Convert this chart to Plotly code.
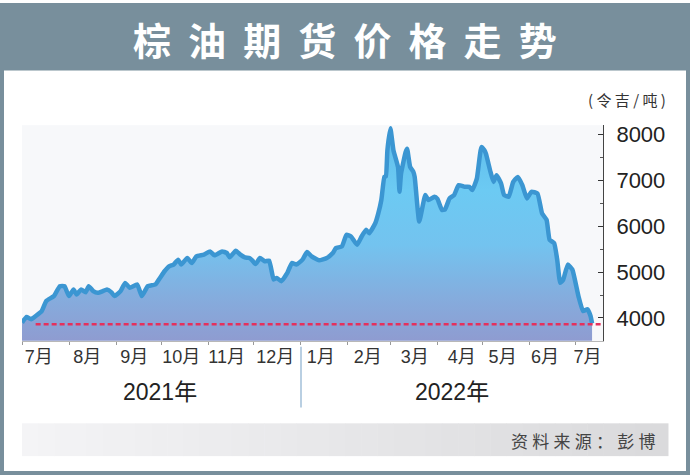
import plotly.graph_objects as go

dates = [
    "2021-07-01", "2021-07-04", "2021-07-07", "2021-07-10", "2021-07-14", "2021-07-17", "2021-07-22", "2021-07-26", "2021-07-29",
    "2021-08-01", "2021-08-04", "2021-08-06", "2021-08-09", "2021-08-12", "2021-08-14", "2021-08-17", "2021-08-20", "2021-08-23", "2021-08-26", "2021-08-29", "2021-08-31",
    "2021-09-04", "2021-09-07", "2021-09-10", "2021-09-15", "2021-09-18", "2021-09-22", "2021-09-27", "2021-09-30",
    "2021-10-03", "2021-10-06", "2021-10-09", "2021-10-12", "2021-10-14", "2021-10-18", "2021-10-21", "2021-10-24", "2021-10-29",
    "2021-11-02", "2021-11-05", "2021-11-10", "2021-11-13", "2021-11-15", "2021-11-19", "2021-11-22", "2021-11-25", "2021-11-28", "2021-11-30",
    "2021-12-02", "2021-12-05", "2021-12-08", "2021-12-11", "2021-12-14", "2021-12-16", "2021-12-19", "2021-12-23", "2021-12-26", "2021-12-29",
    "2022-01-02", "2022-01-05", "2022-01-08", "2022-01-13", "2022-01-18", "2022-01-22", "2022-01-24", "2022-01-28", "2022-01-31",
    "2022-02-03", "2022-02-07", "2022-02-10", "2022-02-13", "2022-02-15", "2022-02-19", "2022-02-21", "2022-02-23", "2022-02-25", "2022-02-26", "2022-02-27",
    "2022-03-01", "2022-03-03", "2022-03-06", "2022-03-07", "2022-03-08", "2022-03-11", "2022-03-12", "2022-03-14", "2022-03-16", "2022-03-17", "2022-03-20", "2022-03-24", "2022-03-26", "2022-03-30",
    "2022-04-01", "2022-04-04", "2022-04-06", "2022-04-09", "2022-04-12", "2022-04-15", "2022-04-19", "2022-04-22", "2022-04-24", "2022-04-27", "2022-04-30",
    "2022-05-02", "2022-05-03", "2022-05-06", "2022-05-08", "2022-05-10", "2022-05-13", "2022-05-15", "2022-05-18", "2022-05-21", "2022-05-24", "2022-05-27", "2022-05-30",
    "2022-06-02", "2022-06-06", "2022-06-09", "2022-06-12", "2022-06-14", "2022-06-17", "2022-06-19", "2022-06-21", "2022-06-23", "2022-06-26", "2022-06-29",
    "2022-07-03", "2022-07-06", "2022-07-09", "2022-07-11", "2022-07-12",
]

prices = [
    3898, 4022, 3972, 4043, 4150, 4370, 4477, 4694, 4694,
    4477, 4622, 4514, 4622, 4560, 4694, 4585, 4549, 4580, 4622, 4560, 4477,
    4585, 4766, 4660, 4731, 4477, 4694, 4731, 4874,
    5020, 5128, 5165, 5273, 5165, 5308, 5200, 5345, 5382,
    5453, 5367, 5453, 5420, 5323, 5469, 5382, 5323, 5308, 5250,
    5178, 5308, 5236, 5250, 4839, 4874, 4803, 4983, 5200, 5165,
    5273, 5438, 5345, 5258, 5308, 5416, 5525, 5562, 5816,
    5779, 5599, 5779, 5924, 5850, 6067, 6284, 6575, 7080, 7095, 7659,
    8140, 7659, 7297, 6755, 7150, 7620, 7694, 7297, 7200, 7080, 6104, 6683, 6575, 6646,
    6600, 6358, 6370, 6610, 6683, 6900, 6863, 6863, 6791, 7043, 7731,
    7659, 7586, 7189, 6971, 7117, 6935, 6683, 6646, 6971, 7080, 6900, 6610,
    6755, 6718, 6284, 6141, 5707, 5633, 5273, 4766, 4839, 5165, 5056,
    4477, 4152, 4189, 4043, 3880,
]

ref_dates = ["2021-07-10", "2022-07-18"]
ref_values = [3860, 3860]

month_tick_dates = ["2021-07-12", "2021-08-13", "2021-09-13", "2021-10-14", "2021-11-13", "2021-12-15",
                    "2022-01-14", "2022-02-14", "2022-03-17", "2022-04-17", "2022-05-14", "2022-06-11", "2022-07-09"]
month_labels = ["7月", "8月", "9月", "10月", "11月", "12月", "1月", "2月", "3月", "4月", "5月", "6月", "7月"]
y_ticks = [4000, 5000, 6000, 7000, 8000]
year_labels = ["2021年", "2022年"]

title = "棕油期货价格走势"
unit = "( 令 吉 / 吨 )"
source = "资料来源：彭博"

W, H = 690, 475


def px(x):
    return x / W


def py(y):
    return 1 - y / H


fig = go.Figure()
fig.add_trace(go.Scatter(
    x=dates, y=prices, mode="lines",
    line=dict(color="#3b96d2", width=4.5, shape="spline", smoothing=0.4),
    fill="tozeroy",
    fillgradient=dict(type="vertical", start=3500, stop=8200,
                      colorscale=[[0, "#8f9bd0"], [0.2, "#85acdd"], [0.45, "#73c3ef"],
                                  [0.7, "#6ccaf3"], [1, "#5fbcea"]]),
    hoverinfo="skip", showlegend=False,
))
fig.add_trace(go.Scatter(
    x=ref_dates, y=ref_values, mode="lines",
    line=dict(color="#e5305c", width=2.5, dash="5px,3px"),
    hoverinfo="skip", showlegend=False,
))

band = "#788f9c"
shapes = []
shapes.append(dict(type="rect", xref="paper", yref="paper", x0=px(2), x1=px(688), y0=py(473), y1=py(2),
                   line=dict(color=band, width=4), fillcolor="rgba(0,0,0,0)", layer="above"))
shapes.append(dict(type="rect", xref="paper", yref="paper", x0=px(2), x1=px(688), y0=py(68), y1=py(2),
                   line=dict(width=0), fillcolor=band, layer="below"))
n = 40
x_start, x_end = 22, 668
for i in range(n):
    t = i / (n - 1)
    c = int(244 - 26 * t)
    shapes.append(dict(type="rect", xref="paper", yref="paper",
                       x0=px(x_start + (x_end - x_start) * i / n), x1=px(x_start + (x_end - x_start) * (i + 1) / n + 0.5),
                       y0=py(456), y1=py(423), line=dict(width=0),
                       fillcolor=f"rgb({c},{c},{c + 2})", layer="below"))
shapes.append(dict(type="line", xref="paper", yref="paper", x0=px(301), x1=px(301), y0=py(407), y1=py(346),
                   line=dict(color="#b9cfe2", width=2)))

annotations = [
    dict(text="\u2005\u2009".join(title), x=px(345), y=py(36), xref="paper", yref="paper",
         showarrow=False, font=dict(family="Noto Sans CJK SC", size=38, color="white", weight="bold"),
         xanchor="center", yanchor="middle"),
    dict(text=unit, x=px(668), y=py(97), xref="paper", yref="paper", showarrow=False,
         font=dict(family="Noto Sans CJK SC", size=15, color="#333"), xanchor="right", yanchor="middle"),
    dict(text=year_labels[0], x=px(160), y=py(391), xref="paper", yref="paper", showarrow=False,
         font=dict(family="Liberation Sans, Noto Sans CJK SC", size=23, color="#222"), xanchor="center", yanchor="middle"),
    dict(text=year_labels[1], x=px(452), y=py(391), xref="paper", yref="paper", showarrow=False,
         font=dict(family="Liberation Sans, Noto Sans CJK SC", size=23, color="#222"), xanchor="center", yanchor="middle"),
    dict(text="\u2005".join(source), x=px(658), y=py(440), xref="paper", yref="paper", showarrow=False,
         font=dict(family="Noto Sans CJK SC", size=17, color="#444"), xanchor="right", yanchor="middle"),
]

fig.update_layout(
    width=W, height=H, autosize=False,
    margin=dict(l=0, r=0, t=0, b=0, pad=0),
    paper_bgcolor="white", plot_bgcolor="#f7f8fa",
    shapes=shapes, annotations=annotations,
    xaxis=dict(domain=[px(22), px(603)], type="date",
               range=["2021-07-01", "2022-07-19 05:00"],
               tickvals=month_tick_dates, ticktext=month_labels,
               ticks="", showgrid=False, zeroline=False,
               showline=True, linecolor="#b8b8b8", linewidth=1,
               tickfont=dict(family="Liberation Sans, Noto Sans CJK SC", size=18, color="#333"),
               minor=dict(ticks="outside", ticklen=3, tickcolor="#999", dtick="M1", tick0="2021-07-01", showgrid=False),
               fixedrange=True),
    yaxis=dict(domain=[py(340), py(123)], range=[3500, 8208], side="right",
               tickvals=y_ticks, ticks="inside", ticklen=5, tickcolor="#333",
               minor=dict(ticks="inside", ticklen=3, tickcolor="#555", dtick=500, showgrid=False),
               showline=True, linecolor="#444", linewidth=1, showgrid=False, zeroline=False,
               tickfont=dict(family="Liberation Sans", size=22, color="#222"),
               ticklabelstandoff=8, fixedrange=True),
)

fig.write_html("out.html")
